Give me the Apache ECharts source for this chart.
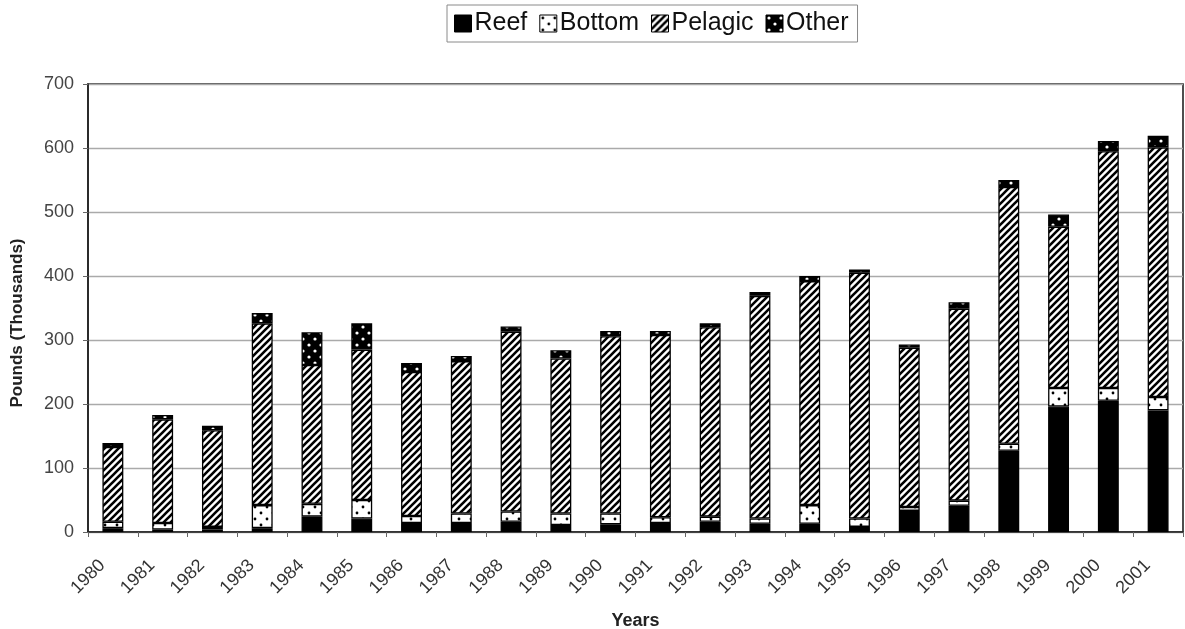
<!DOCTYPE html>
<html>
<head>
<meta charset="utf-8">
<script src="https://cdn.jsdelivr.net/npm/echarts@6/dist/echarts.min.js"></script>
<style>
html,body{margin:0;padding:0;background:#fff;}
#chart{width:1185px;height:629px;}
</style>
</head>
<body>
<div id="chart"></div>
<script>
const years = ['1980','1981','1982','1983','1984','1985','1986','1987','1988','1989','1990','1991','1992','1993','1994','1995','1996','1997','1998','1999','2000','2001'];
const reef    = [6, 4, 4, 6, 24, 21, 14, 14, 16, 11, 12, 14, 16, 13, 13, 8, 33, 41, 127, 196, 205, 190];
const bottom  = [10, 10, 4, 36, 20, 29, 11, 15, 16, 18, 17, 9, 8, 8, 29, 13, 6, 8, 11, 29, 20, 21];
const pelagic = [117, 162, 151, 284, 217, 235, 225, 238, 281, 242, 277, 285, 296, 348, 350, 384, 249, 300, 401, 252, 370, 390];
const other   = [6, 7, 7, 16, 51, 41, 14, 8, 8, 13, 8, 6, 6, 6, 8, 5, 5, 10, 11, 19, 16, 18];
const yTicks  = [0, 100, 200, 300, 400, 500, 600, 700];

function makeTile(size, draw) {
  const c = document.createElement('canvas');
  c.width = size; c.height = size;
  const ctx = c.getContext('2d');
  draw(ctx, size);
  return c;
}
const hatch = makeTile(7, (ctx, s) => {
  ctx.fillStyle = '#fff'; ctx.fillRect(0, 0, s, s);
  ctx.strokeStyle = '#000'; ctx.lineWidth = 2.6;
  ctx.beginPath();
  ctx.moveTo(-1, s + 1); ctx.lineTo(s + 1, -1);
  ctx.moveTo(-2, 2); ctx.lineTo(2, -2);
  ctx.moveTo(s - 2, s + 2); ctx.lineTo(s + 2, s - 2);
  ctx.stroke();
});
const dotsWhite = makeTile(12, (ctx, s) => {
  ctx.fillStyle = '#fff'; ctx.fillRect(0, 0, s, s);
  ctx.fillStyle = '#000';
  ctx.beginPath(); ctx.arc(3, 3, 1.4, 0, Math.PI * 2); ctx.fill();
  ctx.beginPath(); ctx.arc(9, 9, 1.4, 0, Math.PI * 2); ctx.fill();
});
const dotsBlack = makeTile(12, (ctx, s) => {
  ctx.fillStyle = '#000'; ctx.fillRect(0, 0, s, s);
  ctx.fillStyle = '#fff';
  ctx.beginPath(); ctx.arc(3, 3, 1.6, 0, Math.PI * 2); ctx.fill();
  ctx.beginPath(); ctx.arc(9, 9, 1.6, 0, Math.PI * 2); ctx.fill();
});

const font = 'Liberation Sans, Arial, sans-serif';
function mk(name, data, color) {
  return {
    name: name, type: 'bar', stack: 'total', data: data, barWidth: '42%',
    itemStyle: { color: color, borderColor: '#000', borderWidth: 1.3 },
    emphasis: { disabled: true }
  };
}

const chart = echarts.init(document.getElementById('chart'), null, { renderer: 'canvas' });
chart.setOption({
  animation: false,
  backgroundColor: '#fff',
  legend: {
    left: 447, top: 5,
    padding: [6, 9, 6, 7],
    borderColor: '#8a8a8a', borderWidth: 1,
    itemWidth: 17, itemHeight: 17, itemGap: 12,
    icon: 'rect',
    textStyle: { fontFamily: font, fontSize: 25, color: '#111', padding: [0, 0, 0, -2] },
    itemStyle: { borderColor: '#000', borderWidth: 1 },
    data: ['Reef', 'Bottom', 'Pelagic', 'Other']
  },
  grid: {
    left: 88, right: 2, top: 84, bottom: 97,
    containLabel: false, outerBoundsMode: 'none',
    show: true, borderColor: '#222', borderWidth: 1.6, backgroundColor: '#fff'
  },
  xAxis: {
    type: 'category', data: years,
    name: 'Years', nameLocation: 'middle', nameGap: 80,
    nameTextStyle: { fontFamily: font, fontSize: 18, fontWeight: 'bold', color: '#222' },
    axisLine: { show: true, lineStyle: { color: '#222', width: 1.6 } },
    axisTick: { show: true, length: 5, alignWithLabel: false, lineStyle: { color: '#666' } },
    axisLabel: { rotate: 45, fontFamily: font, fontSize: 18, color: '#333', margin: 20, padding: [0, 15, 0, 0], interval: 0 },
    splitLine: { show: false }
  },
  yAxis: {
    type: 'value', min: 0, max: 700, interval: 100,
    name: 'Pounds (Thousands)', nameLocation: 'middle', nameGap: 62,
    nameTextStyle: { fontFamily: font, fontSize: 17, fontWeight: 'bold', color: '#222', padding: [0, 30, 0, 0] },
    axisLine: { show: true, lineStyle: { color: '#222', width: 1.6 } },
    axisTick: { show: true, length: 5, inside: false, lineStyle: { color: '#666' } },
    axisLabel: {
      fontFamily: font, fontSize: 18, color: '#444', margin: 14,
      formatter: v => (yTicks.indexOf(v) >= 0 ? String(v) : '')
    },
    splitLine: { show: true, lineStyle: { color: '#aaa', width: 1.4 } }
  },
  series: [
    mk('Reef', reef, '#000'),
    mk('Bottom', bottom, { image: dotsWhite, repeat: 'repeat' }),
    mk('Pelagic', pelagic, { image: hatch, repeat: 'repeat' }),
    mk('Other', other, { image: dotsBlack, repeat: 'repeat' })
  ]
});
</script>
</body>
</html>
